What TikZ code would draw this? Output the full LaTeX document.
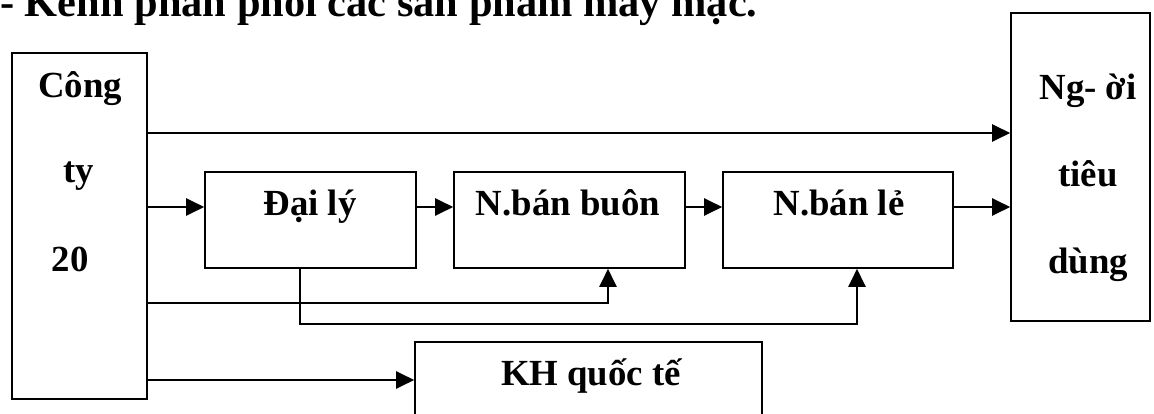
\documentclass[tikz,border=0pt]{standalone}
\usepackage{fontspec}
\setmainfont{Liberation Serif}
\usetikzlibrary{arrows.meta}
\begin{document}
\begin{tikzpicture}[x=1pt,y=-1pt,
 box/.style={draw,line width=1.6pt,inner sep=0pt},
 lbl/.style={inner sep=0pt,anchor=base,font=\fontsize{36.8}{40}\bfseries\selectfont},
 conn/.style={line width=2.2pt,-{Triangle[length=18pt 0 0,width=17pt 0 0]}}]
\useasboundingbox (0,0) rectangle (1154,414);
\clip (0,0) rectangle (1154,414);
\node[inner sep=0pt,anchor=base west,font=\fontsize{42.4}{46}\bfseries\selectfont] (title) at (0,17) {- Kênh phân phối các sản phẩm may mặc.};
% boxes
\node[box,minimum width=135pt,minimum height=346pt] (cong) at (79.5,226) {};
\node[box,minimum width=211pt,minimum height=96pt] (dl) at (310.5,220) {};
\node[box,minimum width=231pt,minimum height=96pt] (nbb) at (569.5,220) {};
\node[box,minimum width=230pt,minimum height=96pt] (nbl) at (838,220) {};
\node[box,minimum width=139pt,minimum height=308pt] (ntd) at (1080.5,167) {};
\node[box,minimum width=347pt,minimum height=100pt] (kh) at (588.5,392) {};
% labels
\node[lbl] (t1) at (80,98) {Công};
\node[lbl] (t2) at (79,183) {ty};
\node[lbl] (t3) at (70,272) {20};
\node[lbl] (t4) at (310,216) {Đại lý};
\node[lbl] (t5) at (568,216) {N.bán buôn};
\node[lbl] (t6) at (839,216) {N.bán lẻ};
\node[lbl] (t7) at (1088,100) {Ng- ời};
\node[lbl] (t8) at (1088,187) {tiêu};
\node[lbl] (t9) at (1088,273) {dùng};
\node[lbl] (t10) at (591,385) {KH quốc tế};
% connectors
\draw[conn] (cong.east |- 0,133) -- (ntd.west |- 0,133);
\draw[conn] (cong.east |- 0,207) -- (dl.west |- 0,207);
\draw[conn] (dl.east |- 0,207) -- (nbb.west |- 0,207);
\draw[conn] (nbb.east |- 0,207) -- (nbl.west |- 0,207);
\draw[conn] (nbl.east |- 0,207) -- (ntd.west |- 0,207);
\draw[conn] (cong.east |- 0,303) -| ([xshift=38.5pt]nbb.south);
\draw[conn] ([xshift=-10.5pt]dl.south) -- ++(0,55) -| ([xshift=19pt]nbl.south);
\draw[conn] (cong.east |- 0,380) -- (kh.west |- 0,380);
\end{tikzpicture}
\end{document}
